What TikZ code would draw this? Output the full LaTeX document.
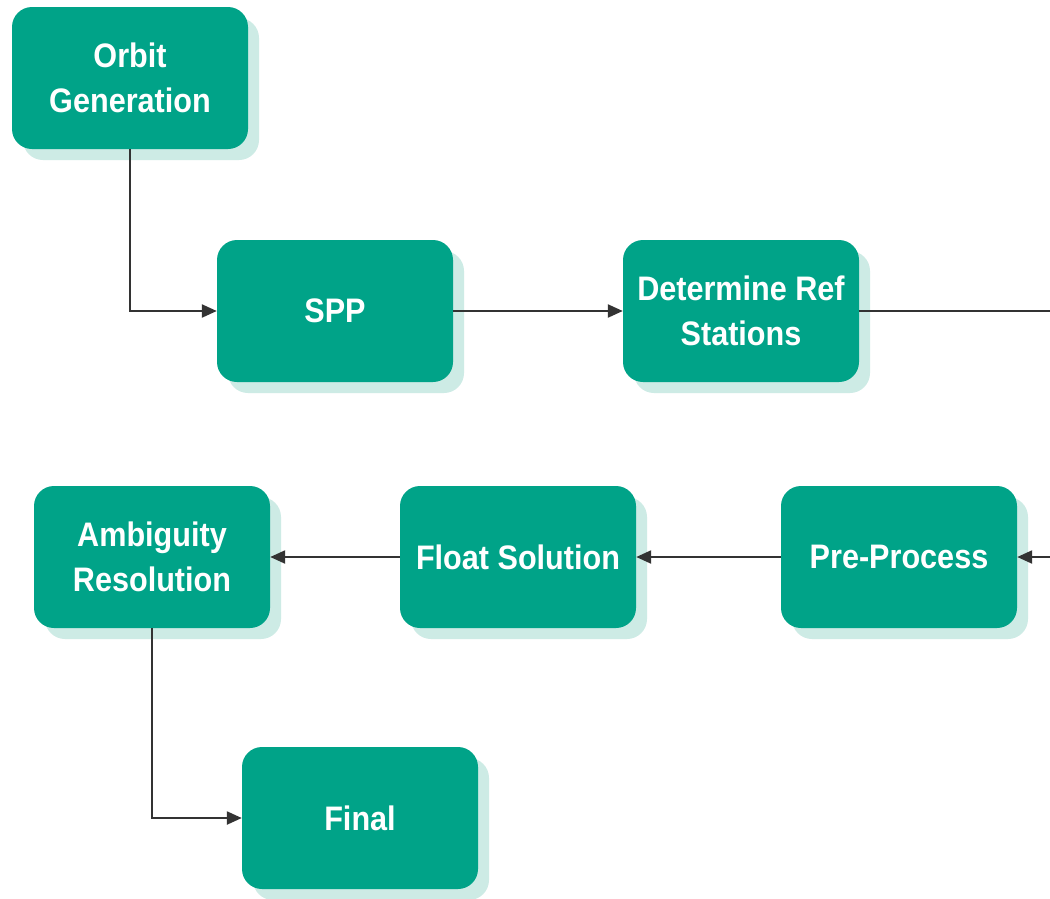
\documentclass[tikz,border=0pt]{standalone}
\usepackage{fontspec}
\setmainfont{Liberation Sans}[FakeStretch=0.9]
\usetikzlibrary{arrows.meta,shadows}
\definecolor{boxc}{HTML}{00A388}
\definecolor{shadc}{HTML}{CDEBE5}
\definecolor{linec}{HTML}{333333}
\tikzset{
  stepbox/.style={rounded corners=20pt, fill=boxc, draw=none, minimum width=236pt, minimum height=142pt,
    text=white, font=\bfseries\fontsize{34}{45}\selectfont, align=center, inner sep=0pt,
    copy shadow={shadow xshift=11pt, shadow yshift=-11pt, fill=shadc, draw=none}},
  conn/.style={draw=linec, line width=2.3pt, -{Triangle[length=15pt,width=13pt]}}
}
\begin{document}
\begin{tikzpicture}[x=1pt,y=-1pt]
\clip (0,0) rectangle (1050,898);
\fill[white] (0,0) rectangle (1050,898);
\node[stepbox] (orbit) at (130,78) {Orbit\\Generation};
\node[stepbox] (spp) at (335,311) {SPP};
\node[stepbox] (det) at (741,311) {Determine Ref\\Stations};
\node[stepbox] (amb) at (152,557) {Ambiguity\\Resolution};
\node[stepbox] (flt) at (518,557) {Float Solution};
\node[stepbox] (pre) at (899,557) {Pre-Process};
\node[stepbox] (fin) at (360,818) {Final};
\coordinate (off) at (1100,311);
\draw[conn] (orbit.south) |- (spp.west);
\draw[conn] (spp.east) -- (det.west);
\draw[conn] (det.east) -- (off) |- (pre.east);
\draw[conn] (pre.west) -- (flt.east);
\draw[conn] (flt.west) -- (amb.east);
\draw[conn] (amb.south) |- (fin.west);
\end{tikzpicture}
\end{document}
